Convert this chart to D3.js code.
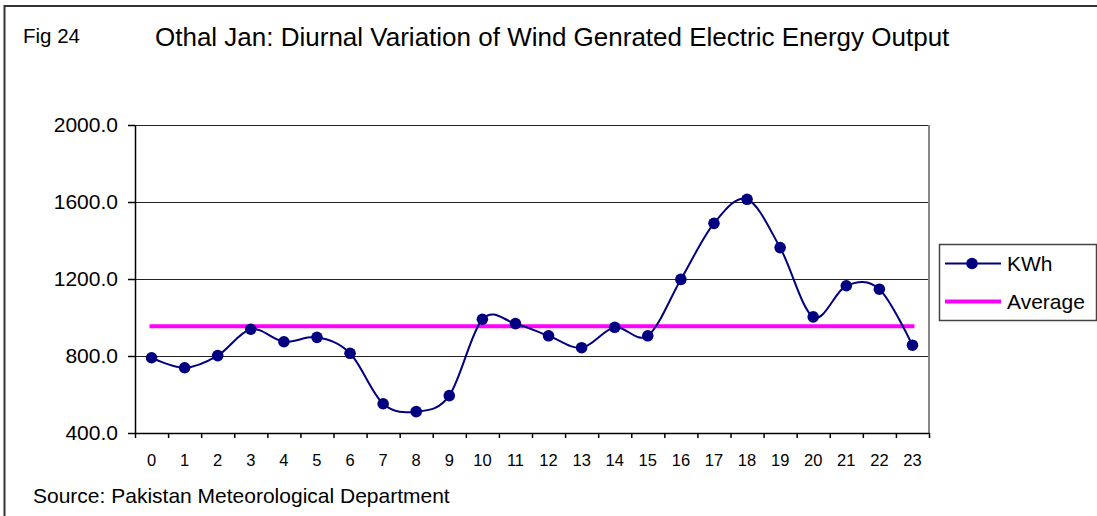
<!DOCTYPE html>
<html>
<head>
<meta charset="utf-8">
<script src="https://cdn.jsdelivr.net/npm/d3@7"></script>
<style>
  body { margin: 0; background: #fff; }
  svg text { font-family: "Liberation Sans", Arial, sans-serif; fill: #000; }
</style>
</head>
<body>
<div id="chart"></div>
<script>
let width_chart = 1097;
let height_chart = 516;

// hours of the day
const hours = d3.range(0, 24).map(String);
// KWh per hour
const kwh = [791, 739, 802, 939, 874, 897, 814, 552, 511, 594, 991, 968,
             905, 843, 949, 905, 1198, 1489, 1614, 1363, 1003, 1165, 1147, 856];
const yTicks = [400, 800, 1200, 1600, 2000];
const seriesNames = ["KWh", "Average"];

const average = d3.mean(kwh);

let svg = d3.select('#chart').append('svg')
    .attr('width', width_chart)
    .attr('height', height_chart);

// outer frame
svg.append("rect")
    .attr("x", 4.5).attr("y", 6)
    .attr("width", 1200).attr("height", 600)
    .attr("fill", "none")
    .attr("stroke", "#333")
    .attr("stroke-width", 2);

svg.append("text")
    .attr("x", 23).attr("y", 42.5)
    .style("font-size", "20.5px")
    .text("Fig 24");

svg.append("text")
    .attr("x", 155).attr("y", 46)
    .style("font-size", "26px")
    .text("Othal Jan: Diurnal Variation of Wind Genrated Electric Energy Output");

svg.append("text")
    .attr("x", 33).attr("y", 503)
    .style("font-size", "21px")
    .text("Source: Pakistan Meteorological Department");

// scales
const plotLeft = 135, plotRight = 929, plotTop = 125, plotBottom = 433;
var x = d3.scaleBand().domain(hours).range([plotLeft, plotRight]);
var xEdge = d3.scaleLinear().domain([0, 24]).range([plotLeft, plotRight]);
var y = d3.scaleLinear().domain([400, 2000]).range([plotBottom, plotTop]);

// gridlines
svg.append("g").selectAll("line")
    .data(yTicks.slice(1))
    .enter().append("line")
    .attr("x1", plotLeft).attr("x2", plotRight)
    .attr("y1", d => y(d)).attr("y2", d => y(d))
    .attr("stroke", "#222")
    .attr("stroke-width", 1)
    .attr("shape-rendering", "crispEdges");

// plot area right border
svg.append("line")
    .attr("x1", plotRight).attr("x2", plotRight)
    .attr("y1", plotTop).attr("y2", plotBottom)
    .attr("stroke", "#888")
    .attr("stroke-width", 2);

// y axis
var yAxis = svg.append("g")
    .attr("transform", "translate(" + plotLeft + ",0)")
    .call(d3.axisLeft(y).tickValues(yTicks).tickFormat(d3.format(".1f"))
        .tickSize(7).tickPadding(10).tickSizeOuter(0));
yAxis.attr("font-family", null);
yAxis.selectAll("text").style("font-size", "21px");
yAxis.selectAll("path, line").attr("stroke", "#000").attr("stroke-width", 1.5);

// x axis: ticks on band edges, labels at centres
var xTickAxis = svg.append("g")
    .attr("transform", "translate(0," + plotBottom + ")")
    .call(d3.axisBottom(xEdge).ticks(24).tickSize(5).tickSizeOuter(0).tickFormat(""));
xTickAxis.selectAll("path, line").attr("stroke", "#000").attr("stroke-width", 1.5);

var xLabels = svg.append("g")
    .attr("transform", "translate(0," + plotBottom + ")")
    .call(d3.axisBottom(x).tickSize(0).tickPadding(21));
xLabels.attr("font-family", null);
xLabels.select(".domain").remove();
xLabels.selectAll("text").style("font-size", "16.5px");

// average line
svg.append("line")
    .attr("x1", x(hours[0]) + x.bandwidth() / 2 - 2)
    .attr("x2", x(hours[hours.length - 1]) + x.bandwidth() / 2 + 2)
    .attr("y1", y(average)).attr("y2", y(average))
    .attr("stroke", "#ff00ff")
    .attr("stroke-width", 4);

// KWh curve
var line = d3.line()
    .x((d, i) => x(hours[i]) + x.bandwidth() / 2)
    .y(d => y(d))
    .curve(d3.curveCardinal.tension(0));

svg.append("path")
    .datum(kwh)
    .attr("d", line)
    .attr("fill", "none")
    .attr("stroke", "#000080")
    .attr("stroke-width", 2);

svg.append("g").selectAll("circle")
    .data(kwh)
    .enter().append("circle")
    .attr("cx", (d, i) => x(hours[i]) + x.bandwidth() / 2)
    .attr("cy", d => y(d))
    .attr("r", 5.8)
    .attr("fill", "#000080");

// legend
var legend = svg.append("g");
legend.append("rect")
    .attr("x", 939.5).attr("y", 244.5)
    .attr("width", 157).attr("height", 76)
    .attr("fill", "#fff")
    .attr("stroke", "#444")
    .attr("stroke-width", 1.5);

var item = legend.selectAll("g.item")
    .data(seriesNames)
    .enter().append("g")
    .attr("class", "item")
    .attr("transform", (d, i) => "translate(0," + (263.5 + i * 38) + ")");

item.append("line")
    .attr("x1", 945).attr("x2", 1001)
    .attr("stroke", (d, i) => i == 0 ? "#000080" : "#ff00ff")
    .attr("stroke-width", (d, i) => i == 0 ? 2 : 4);

item.filter((d, i) => i == 0).append("circle")
    .attr("cx", 972).attr("r", 5.8)
    .attr("fill", "#000080");

item.append("text")
    .attr("x", 1007).attr("y", 7.5)
    .style("font-size", "21px")
    .text(d => d);
</script>
</body>
</html>
